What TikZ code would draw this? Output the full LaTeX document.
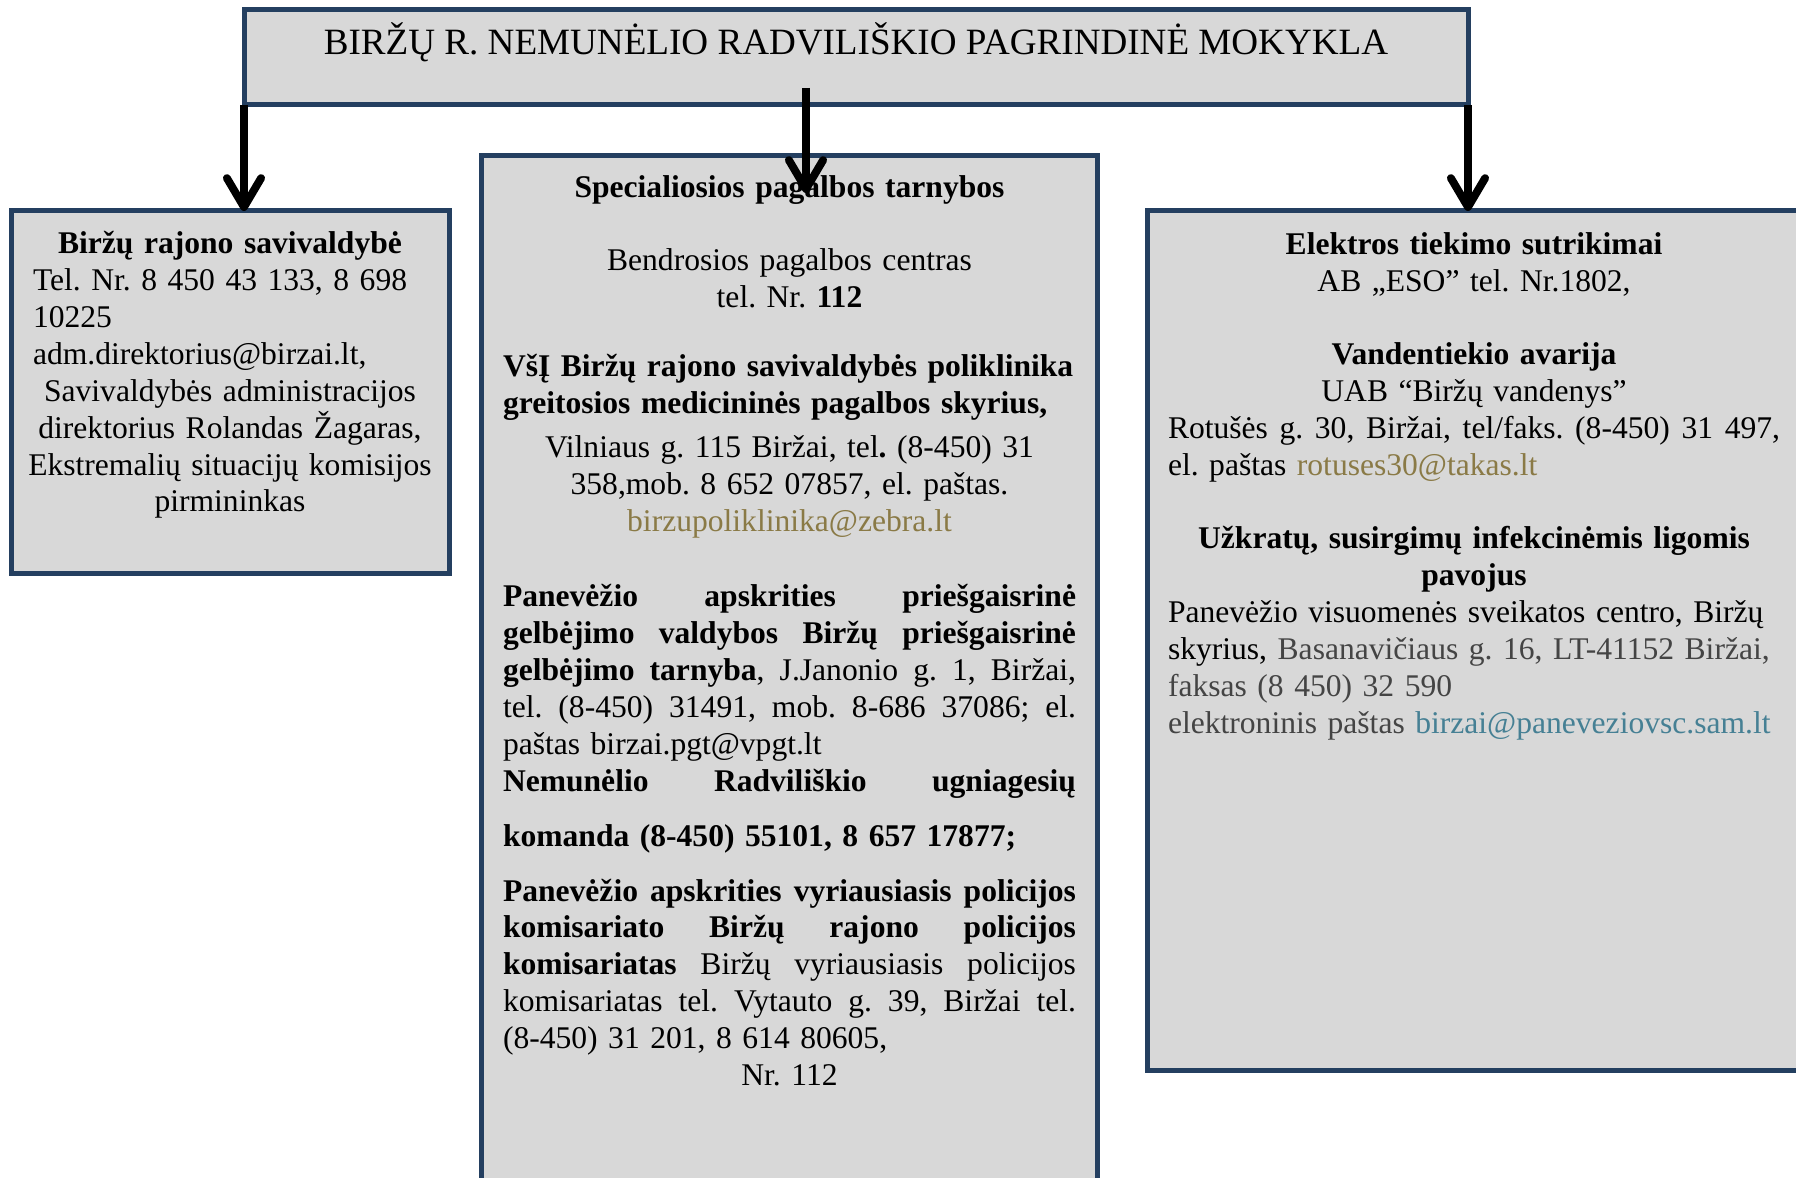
\documentclass[tikz,border=0pt]{standalone}
\usepackage{fontspec}
\setmainfont{Liberation Serif}
\usepackage{xcolor}
\usetikzlibrary{arrows.meta, positioning}

\definecolor{frameblue}{RGB}{36,63,96}
\definecolor{panelgray}{RGB}{216,216,216}
\definecolor{mailolive}{RGB}{138,122,70}
\definecolor{mailteal}{RGB}{70,128,148}
\definecolor{softblack}{RGB}{68,68,68}

\frenchspacing
\newcommand{\pxu}{0.38pt}
\newcommand{\cen}[1]{\makebox[\linewidth][c]{#1}\par}
\newcommand{\lef}[1]{\makebox[\linewidth][l]{#1}\par}
\newcommand{\jus}[1]{\hbox to\linewidth{\spaceskip=\fontdimen2\font plus 1fil\relax #1}\par}

\begin{document}
\begin{tikzpicture}[x=0.38pt, y=-0.38pt,
    panel/.style={rectangle, draw=frameblue, line width=1.9pt, fill=panelgray, inner sep=0pt, outer sep=0pt, anchor=north west},
    txt/.style={inner sep=0pt, anchor=base, font=\fontsize{12}{14}\selectfont},
    link/.style={line width=3pt, -{Straight Barb[length=11pt, width=13pt, round]}}]
            % \useasboundingbox keeps the page at 1796 x 1178
            \useasboundingbox (0,0) rectangle (1796,1178);

            \node[panel, minimum width=1224*\pxu, minimum height=95*\pxu] (school) at (244,10) {};
            \node[panel, minimum width=438*\pxu, minimum height=363*\pxu] (savivald) at (11,211) {};
            \node[panel, minimum width=616*\pxu, minimum height=1100*\pxu] (tarnybos) at (481,156) {};
            \node[panel, minimum width=700*\pxu, minimum height=859*\pxu] (gedimai) at (1147,211) {};

            \node[inner sep=0pt, anchor=base, font=\fontsize{14.1}{16}\selectfont] (title) at (856,55) {BIRŽŲ R. NEMUNĖLIO RADVILIŠKIO PAGRINDINĖ MOKYKLA};

            \node[txt, text width=149.72pt] (savtext) at (230,254) {\cen{\bfseries Biržų rajono savivaldybė}\lef{Tel. Nr. 8 450 43 133, 8 698}\lef{10225}\lef{adm.direktorius@birzai.lt,}\cen{Savivaldybės administracijos}\cen{direktorius Rolandas Žagaras,}\cen{Ekstremalių situacijų komisijos}\cen{pirmininkas}};

            \node[txt, text width=217.74pt] (spechead) at (789.5,198) {\cen{\bfseries Specialiosios pagalbos tarnybos}};
            \node[txt, text width=217.74pt] (centras) at (789.5,271) {\cen{Bendrosios pagalbos centras}\cen{tel. Nr. \textbf{112}}};
            \node[txt, text width=217.74pt] (poliklin) at (789.5,377) {\lef{\bfseries VšĮ Biržų rajono savivaldybės poliklinika}\lef{\bfseries greitosios medicininės pagalbos skyrius,}};
            \node[txt, text width=217.74pt] (poliadr) at (789.5,458) {\cen{Vilniaus g. 115 Biržai, tel\textbf{.} (8-450) 31}\cen{358,mob. 8 652 07857, el. paštas.}\cen{\textcolor{mailolive}{birzupoliklinika@zebra.lt}}};
            \node[txt, text width=217.74pt] (pgt) at (789.5,607) {\jus{\bfseries Panevėžio apskrities priešgaisrinė}\jus{\bfseries gelbėjimo valdybos Biržų priešgaisrinė}\jus{\textbf{gelbėjimo tarnyba}, J.Janonio g. 1, Biržai,}\jus{tel. (8-450) 31491, mob. 8-686 37086; el.}\lef{paštas birzai.pgt@vpgt.lt}\jus{\bfseries Nemunėlio Radviliškio ugniagesių}};
            \node[txt, text width=217.74pt] (komanda) at (789.5,846) {\lef{\bfseries komanda (8-450) 55101, 8 657 17877;}};
            \node[txt, text width=217.74pt] (policija) at (789.5,901) {\jus{\bfseries Panevėžio apskrities vyriausiasis policijos}\jus{\bfseries komisariato Biržų rajono policijos}\jus{\textbf{komisariatas} Biržų vyriausiasis policijos}\jus{komisariatas tel. Vytauto g. 39, Biržai tel.}\lef{(8-450) 31 201, 8 614 80605,}\cen{Nr. 112}};

            \node[txt, text width=232.56pt] (elektra) at (1474,255) {\cen{\bfseries Elektros tiekimo sutrikimai}\cen{AB „ESO” tel. Nr.1802,}};
            \node[txt, text width=232.56pt] (vanduo) at (1474,365) {\cen{\bfseries Vandentiekio avarija}\cen{UAB “Biržų vandenys”}\jus{Rotušės g. 30, Biržai, tel/faks. (8-450) 31 497,}\lef{el. paštas \textcolor{mailolive}{rotuses30@takas.lt}}};
            \node[txt, text width=232.56pt] (uzkratai) at (1474,549) {\cen{\bfseries Užkratų, susirgimų infekcinėmis ligomis}\cen{\bfseries pavojus}\lef{Panevėžio visuomenės sveikatos centro, Biržų}\lef{skyrius, \textcolor{softblack}{Basanavičiaus g. 16, LT-41152 Biržai,}}\lef{\textcolor{softblack}{faksas (8 450) 32 590}}\lef{\textcolor{softblack}{elektroninis paštas} \textcolor{mailteal}{birzai@paneveziovsc.sam.lt}}};

            \coordinate (mtop) at (806,88);
            \coordinate (mtip) at (806,193);

            \path[link] (school.south west) edge (school.south west |- savivald.north);
            \path[link] (mtop) edge (mtip);
            \path[link] (school.south east) edge (school.south east |- gedimai.north);
\end{tikzpicture}
\end{document}
